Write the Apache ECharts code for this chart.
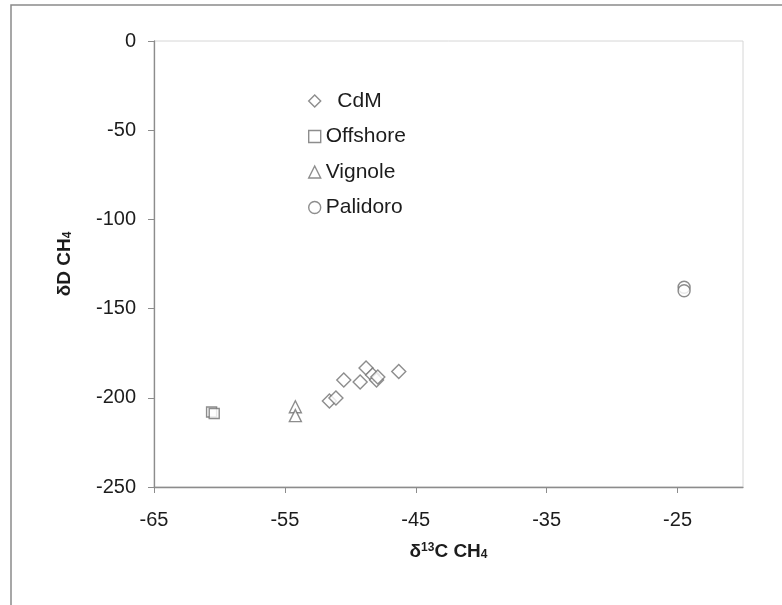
<!DOCTYPE html>
<html>
<head>
<meta charset="utf-8">
<script src="https://cdn.jsdelivr.net/npm/echarts@6/dist/echarts.min.js"></script>
<style>
  html, body { margin: 0; padding: 0; background: #fff; }
  #chart { width: 782px; height: 605px; }
</style>
</head>
<body>
<div id="chart"></div>
<script>
// δ13C (x) and δD (y) of CH4 for each sampling site
const cdmX = [-51.6, -51.1, -50.5, -49.25, -48.8, -48.3, -48.0, -47.9, -46.3];
const cdmY = [-201.8, -200.1, -190.0, -191.1, -183.3, -187.2, -190.0, -188.3, -185.3];
const offshoreX = [-60.6, -60.4];
const offshoreY = [-208.0, -208.8];
const vignoleX = [-54.2, -54.2];
const vignoleY = [-205.0, -210.0];
const palidoroX = [-24.5, -24.5];
const palidoroY = [-138.0, -140.0];

const seriesNames = ['CdM', 'Offshore', 'Vignole', 'Palidoro'];
const xTicks = [-65, -55, -45, -35, -25];
const yTicks = [0, -50, -100, -150, -200, -250];

const pairs = (xs, ys) => xs.map((x, i) => [x, ys[i]]);

const FONT = '"Liberation Sans", Arial, sans-serif';
const TEXT = '#1c1c1c';
const MARK = '#707070';
const AXIS = '#8c8c8c';

const markerStyle = { color: '#ffffff', borderColor: MARK, borderWidth: 1.4 };

const chart = echarts.init(document.getElementById('chart'), null, { renderer: 'canvas' });

chart.setOption({
  animation: false,
  backgroundColor: '#ffffff',
  textStyle: { fontFamily: FONT },
  grid: {
    left: 154, top: 41, right: 39, bottom: 118,
    show: true, borderColor: '#d6d6d6', borderWidth: 1, backgroundColor: 'transparent'
  },
  legend: {
    orient: 'vertical',
    left: 303, top: 85,
    itemWidth: 12, itemHeight: 12, itemGap: 13.5,
    textStyle: { fontSize: 21, color: TEXT, fontFamily: FONT, lineHeight: 22 },
    formatter: name => (name === 'CdM' ? '  ' + name : name),
    data: seriesNames.map(n => ({ name: n, itemStyle: markerStyle }))
  },
  xAxis: {
    type: 'value',
    min: -65, max: -20,
    name: '{b|δ}{sup|13}{b|C CH}{sub|4}',
    nameLocation: 'middle',
    nameGap: 55,
    nameTextStyle: {
      rich: {
        b: { fontSize: 19, fontWeight: 'bold', color: TEXT, fontFamily: FONT, verticalAlign: 'middle' },
        sup: { fontSize: 12, fontWeight: 'bold', color: TEXT, fontFamily: FONT, verticalAlign: 'top' },
        sub: { fontSize: 12, fontWeight: 'bold', color: TEXT, fontFamily: FONT, verticalAlign: 'bottom' }
      }
    },
    axisLine: { show: true, onZero: false, lineStyle: { color: AXIS, width: 1.3 } },
    axisTick: { show: true, length: 6, customValues: xTicks, lineStyle: { color: AXIS, width: 1 } },
    axisLabel: { customValues: xTicks, fontSize: 20, color: TEXT, margin: 23, fontFamily: FONT },
    splitLine: { show: false }
  },
  yAxis: {
    type: 'value',
    min: -250, max: 0, interval: 50,
    name: '{b|δD CH}{sub|4}',
    nameLocation: 'middle',
    nameRotate: 90,
    nameGap: 80,
    nameTextStyle: {
      rich: {
        b: { fontSize: 19, fontWeight: 'bold', color: TEXT, fontFamily: FONT, verticalAlign: 'middle' },
        sub: { fontSize: 12, fontWeight: 'bold', color: TEXT, fontFamily: FONT, verticalAlign: 'bottom' }
      }
    },
    axisLine: { show: true, onZero: false, lineStyle: { color: AXIS, width: 1.3 } },
    axisTick: { show: true, length: 6, customValues: yTicks, lineStyle: { color: AXIS, width: 1 } },
    axisLabel: { fontSize: 20, color: TEXT, margin: 18, fontFamily: FONT },
    splitLine: { show: false }
  },
  graphic: [{
    type: 'rect',
    shape: { x: 11, y: 5, width: 820, height: 700 },
    style: { fill: 'none', stroke: '#8a8a8a', lineWidth: 1.5 },
    silent: true
  }],
  series: [
    { name: 'CdM', type: 'scatter', symbol: 'diamond', symbolSize: 14,
      itemStyle: markerStyle, data: pairs(cdmX, cdmY) },
    { name: 'Offshore', type: 'scatter', symbol: 'rect', symbolSize: 10,
      itemStyle: markerStyle, data: pairs(offshoreX, offshoreY) },
    { name: 'Vignole', type: 'scatter', symbol: 'triangle', symbolSize: 12,
      itemStyle: markerStyle, data: pairs(vignoleX, vignoleY) },
    { name: 'Palidoro', type: 'scatter', symbol: 'circle', symbolSize: 12,
      itemStyle: markerStyle, data: pairs(palidoroX, palidoroY) }
  ]
});
</script>
</body>
</html>
